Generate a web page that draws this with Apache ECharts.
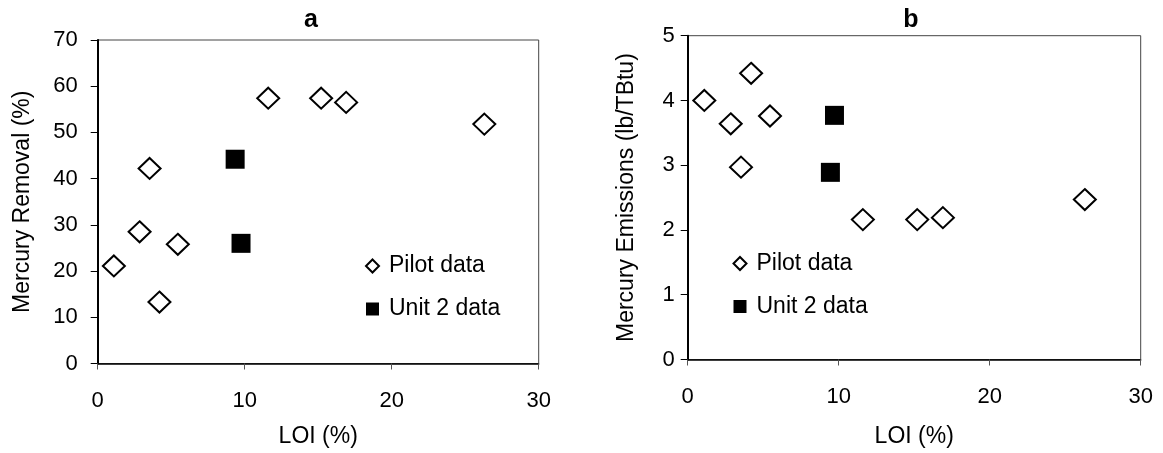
<!DOCTYPE html>
<html><head><meta charset="utf-8">
<script src="https://cdn.jsdelivr.net/npm/echarts@6/dist/echarts.min.js"></script>
<style>html,body{margin:0;padding:0;background:#fff}#c{width:1163px;height:453px}</style>
</head><body><div id="c"></div>
<script>
const pilotLOI = [1.1, 2.85, 3.53, 4.2, 5.45, 11.6, 15.2, 16.9, 26.3];
const pilotRemoval = [21.1, 28.5, 42.2, 13.3, 25.8, 57.4, 57.4, 56.5, 51.8];
const pilotEmissions = [4.0, 3.64, 2.97, 4.42, 3.76, 2.16, 2.16, 2.19, 2.47];
const unitLOIa = [9.35, 9.75];
const unitRemoval = [44.2, 26.0];
const unitLOIb = [9.72, 9.45];
const unitEmissions = [3.77, 2.89];
const xTicks = [0, 10, 20, 30];

const FONT = "'Liberation Sans', Arial, sans-serif";
const FS = 23;
const TFS = 22;
const pairs = (xs, ys) => xs.map((x, i) => [x, ys[i]]);
const chart = echarts.init(document.getElementById('c'), null, {renderer: 'canvas'});

function xAxis(gi, margin, nameGap) {
  return {
    type: 'value', gridIndex: gi, min: 0, max: 30, interval: 10,
    name: 'LOI (%)', nameLocation: 'middle', nameGap: nameGap,
    nameTextStyle: {fontFamily: FONT, fontSize: FS, color: '#000'},
    axisLine: {show: true, onZero: false, lineStyle: {color: '#000', width: 1.5}},
    axisTick: {show: true, length: 6, lineStyle: {color: '#555', width: 1}},
    axisLabel: {fontFamily: FONT, fontSize: TFS, color: '#000', margin: margin,
      formatter: v => xTicks.includes(v) ? String(v) : ''},
    splitLine: {show: false}
  };
}
function yAxis(gi, max, name, margin, nameGap) {
  return {
    type: 'value', gridIndex: gi, min: 0, max: max, interval: max === 70 ? 10 : 1,
    name: name, nameLocation: 'middle', nameGap: nameGap,
    nameTextStyle: {fontFamily: FONT, fontSize: FS, color: '#000'},
    axisLine: {show: true, onZero: false, lineStyle: {color: '#000', width: 2}},
    axisTick: {show: true, inside: false, length: 7, lineStyle: {color: '#000', width: 1}},
    axisLabel: {fontFamily: FONT, fontSize: TFS, color: '#000', margin: margin},
    splitLine: {show: false}
  };
}
const pilotStyle = {color: '#fff', borderColor: '#000', borderWidth: 2, opacity: 1};
const unitStyle = {color: '#000', borderColor: '#000', borderWidth: 0, opacity: 1};

function legend(left, top, gap) {
  return {
    data: ['Pilot data', 'Unit 2 data'], orient: 'vertical', left: left, top: top,
    itemWidth: 13, itemHeight: 13, itemGap: gap, selectedMode: false,
    textStyle: {fontFamily: FONT, fontSize: FS, color: '#000', lineHeight: FS, padding: [0, 0, 0, 5]}
  };
}

chart.setOption({
  animation: false,
  title: [
    {text: 'a', left: 306, top: 3, textAlign: 'center', textStyle: {fontFamily: FONT, fontSize: 25, fontWeight: 'bold', color: '#000'}},
    {text: 'b', left: 906, top: 3, textAlign: 'center', textStyle: {fontFamily: FONT, fontSize: 25, fontWeight: 'bold', color: '#000'}}
  ],
  grid: [
    {left: 97.7, top: 40, width: 441, height: 324, show: true, borderColor: '#444', borderWidth: 1, backgroundColor: 'transparent'},
    {left: 687.7, top: 35.7, width: 453, height: 324.3, show: true, borderColor: '#444', borderWidth: 1, backgroundColor: 'transparent'}
  ],
  xAxis: [xAxis(0, 26, 61.5), xAxis(1, 26.5, 65.5)],
  yAxis: [yAxis(0, 70, 'Mercury Removal (%)', 20, 64), yAxis(1, 5, 'Mercury Emissions (lb/TBtu)', 13, 50)],
  legend: [legend(360, 249.5, 20), legend(727.5, 247, 20)],
  series: [
    {name: 'Pilot data', type: 'scatter', xAxisIndex: 0, yAxisIndex: 0, symbol: 'diamond', symbolSize: [22, 21],
     itemStyle: pilotStyle, data: pairs(pilotLOI, pilotRemoval)},
    {name: 'Unit 2 data', type: 'scatter', xAxisIndex: 0, yAxisIndex: 0, symbol: 'rect', symbolSize: 19,
     itemStyle: unitStyle, data: pairs(unitLOIa, unitRemoval)},
    {name: 'Pilot data', type: 'scatter', xAxisIndex: 1, yAxisIndex: 1, symbol: 'diamond', symbolSize: [22, 21],
     itemStyle: pilotStyle, data: pairs(pilotLOI, pilotEmissions)},
    {name: 'Unit 2 data', type: 'scatter', xAxisIndex: 1, yAxisIndex: 1, symbol: 'rect', symbolSize: 19,
     itemStyle: unitStyle, data: pairs(unitLOIb, unitEmissions)}
  ]
});
</script></body></html>
